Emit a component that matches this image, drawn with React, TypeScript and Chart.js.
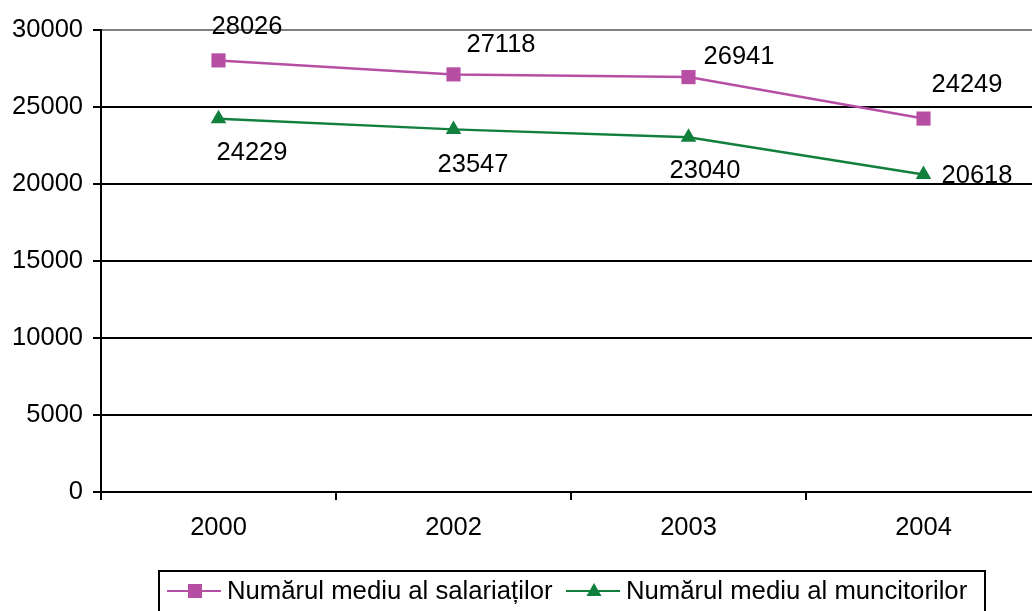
import React, { useEffect, useRef } from "react";
import { Chart, registerables } from "chart.js";

Chart.register(...registerables);

const categories = ["2000", "2002", "2003", "2004"];
const seriesNames = ["Numărul mediu al salariaților", "Numărul mediu al muncitorilor"];
const salariati = [28026, 27118, 26941, 24249];
const muncitori = [24229, 23547, 23040, 20618];
const yTicks = { min: 0, max: 30000, step: 5000 };

// label offsets (px) relative to each point, as placed in the reference
const salariatiLabelDx = [28.5, 47.5, 50.5, 43.5];
const salariatiLabelDy = [-34, -30, -21, -34.5];
const muncitoriLabelDx = [33.5, 19.5, 16.5, 53.5];
const muncitoriLabelDy = [33, 35, 32.5, 0];

const MAGENTA = "#B64FA4";
const GREEN = "#12803D";
const FONT = "'Liberation Sans', Arial, sans-serif";
const FS = 25.5;

const labelPlugin = {
  id: "valueLabels",
  afterDatasetsDraw(chart: any) {
    const ctx = chart.ctx;
    const offsets = [
      [salariatiLabelDx, salariatiLabelDy],
      [muncitoriLabelDx, muncitoriLabelDy],
    ];
    ctx.save();
    ctx.font = `${FS}px ${FONT}`;
    ctx.fillStyle = "#000";
    ctx.textAlign = "center";
    ctx.textBaseline = "middle";
    chart.data.datasets.forEach((ds: any, di: number) => {
      const meta = chart.getDatasetMeta(di);
      meta.data.forEach((pt: any, i: number) => {
        ctx.fillText(String(ds.data[i]), pt.x + offsets[di][0][i], pt.y + offsets[di][1][i] + 1);
      });
    });
    ctx.restore();
  },
};

const legendPlugin = {
  id: "boxLegend",
  afterDraw(chart: any) {
    const ctx = chart.ctx;
    ctx.save();
    ctx.strokeStyle = "#000";
    ctx.lineWidth = 2;
    ctx.strokeRect(159, 571, 826, 60);
    const items = [
      { x0: 167, tx: 227 },
      { x0: 566, tx: 626 },
    ];
    const ly = 591;
    chart.data.datasets.forEach((ds: any, di: number) => {
      const it = items[di];
      ctx.strokeStyle = ds.borderColor;
      ctx.lineWidth = 2;
      ctx.beginPath();
      ctx.moveTo(it.x0, ly);
      ctx.lineTo(it.x0 + 54, ly);
      ctx.stroke();
      ctx.fillStyle = ds.backgroundColor;
      const cx = it.x0 + 28;
      if (ds.pointStyle === "rect") {
        ctx.fillRect(cx - 7, ly - 7, 14, 14);
      } else {
        ctx.beginPath();
        ctx.moveTo(cx, ly - 8);
        ctx.lineTo(cx + 7.5, ly + 5);
        ctx.lineTo(cx - 7.5, ly + 5);
        ctx.closePath();
        ctx.fill();
      }
      ctx.fillStyle = "#000";
      ctx.font = `25.7px ${FONT}`;
      ctx.textAlign = "left";
      ctx.textBaseline = "middle";
      ctx.fillText(ds.label, it.tx, ly + 1);
    });
    ctx.restore();
  },
};

export default function App() {
  const ref = useRef<HTMLCanvasElement>(null);
  useEffect(() => {
    if (!ref.current) return;
    const chart = new Chart(ref.current, {
      type: "line",
      data: {
        labels: categories,
        datasets: [
          {
            label: seriesNames[0],
            data: salariati,
            borderColor: MAGENTA,
            backgroundColor: MAGENTA,
            borderWidth: 2.5,
            pointStyle: "rect",
            pointRadius: 10,
            pointBorderWidth: 0,
            pointBackgroundColor: MAGENTA,
            tension: 0,
          },
          {
            label: seriesNames[1],
            data: muncitori,
            borderColor: GREEN,
            backgroundColor: GREEN,
            borderWidth: 2.5,
            pointStyle: "triangle",
            pointRadius: 9,
            pointBorderWidth: 0,
            pointBackgroundColor: GREEN,
            tension: 0,
          },
        ],
      },
      options: {
        responsive: false,
        animation: false,
        layout: { padding: { top: 30, right: 19, left: 0, bottom: 0 } },
        plugins: {
          legend: { display: false },
          tooltip: { enabled: false },
          title: { display: false },
        },
        scales: {
          x: {
            type: "category",
            offset: true,
            afterFit: (s: any) => {
              s.height = 119;
            },
            grid: {
              offset: true,
              drawOnChartArea: false,
              drawTicks: true,
              tickLength: 8,
              color: "#000",
              lineWidth: 2,
            },
            border: { display: true, color: "#000", width: 2 },
            ticks: {
              color: "#000",
              font: { family: FONT, size: FS },
              padding: 13,
              maxRotation: 0,
            },
          },
          y: {
            min: yTicks.min,
            max: yTicks.max,
            afterFit: (s: any) => {
              s.width = 101;
            },
            grid: {
              color: (c: any) => (c.tick && c.tick.value === yTicks.max ? "#808080" : "#000"),
              lineWidth: 2,
              tickLength: 8,
              tickColor: "#000",
            },
            border: { display: true, color: "#000", width: 2 },
            ticks: {
              stepSize: yTicks.step,
              color: "#000",
              font: { family: FONT, size: FS },
              padding: 10,
              callback: (v: any) => String(v),
            },
          },
        },
      },
      plugins: [labelPlugin, legendPlugin],
    });
    return () => chart.destroy();
  }, []);
  return (
    <div
      style={{
        position: "absolute",
        left: 0,
        top: 0,
        width: 1032,
        height: 611,
        overflow: "hidden",
        background: "#fff",
      }}
    >
      <canvas ref={ref} width={1060} height={611} style={{ display: "block" }} />
    </div>
  );
}
